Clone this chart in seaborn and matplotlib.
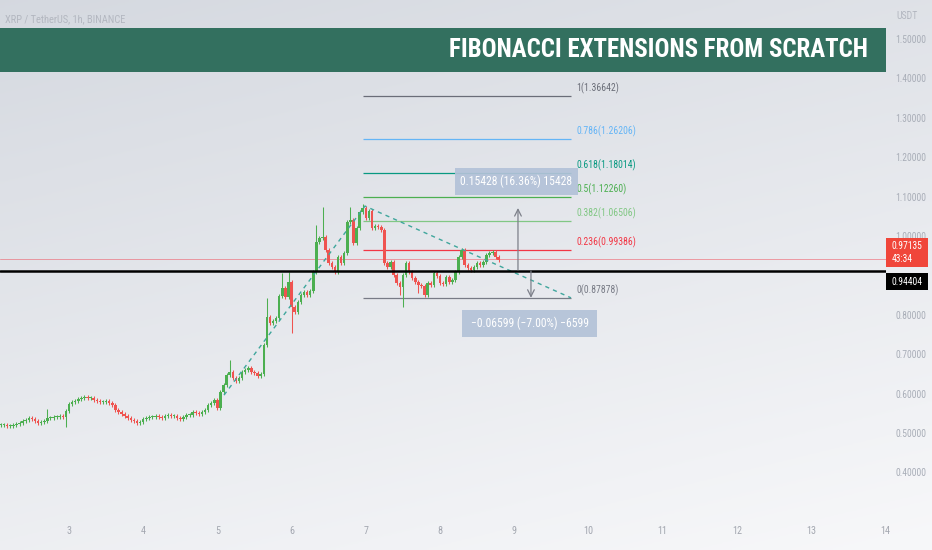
import numpy as np
import matplotlib
matplotlib.use("Agg")
import matplotlib.pyplot as plt
import matplotlib.font_manager as fm
import seaborn as sns
from matplotlib.patches import Rectangle
import matplotlib.transforms as mtransforms

# ---------------- data ----------------
start_day = 2 + 2 / 24          # first hourly candle (day of month)
closes = [
    0.520, 0.520, 0.518, 0.518, 0.520,
    0.523, 0.525, 0.530, 0.533, 0.538,
    0.536, 0.530, 0.525, 0.528, 0.530,
    0.538, 0.538, 0.541, 0.541, 0.543,
    0.541, 0.556, 0.574, 0.579, 0.581,
    0.586, 0.589, 0.591, 0.589, 0.589,
    0.584, 0.581, 0.579, 0.579, 0.581,
    0.576, 0.571, 0.558, 0.553, 0.548,
    0.543, 0.538, 0.533, 0.530, 0.525,
    0.528, 0.536, 0.538, 0.541, 0.541,
    0.543, 0.541, 0.538, 0.543, 0.546,
    0.543, 0.543, 0.538, 0.536, 0.541,
    0.546, 0.546, 0.553, 0.551, 0.548,
    0.553, 0.558, 0.571, 0.576, 0.584,
    0.564, 0.604, 0.622, 0.647, 0.655,
    0.640, 0.632, 0.640, 0.655, 0.660,
    0.665, 0.655, 0.652, 0.645, 0.650,
    0.723, 0.794, 0.779, 0.784, 0.792,
    0.848, 0.868, 0.845, 0.883, 0.820,
    0.807, 0.833, 0.850, 0.858, 0.850,
    0.860, 0.909, 0.985, 0.995, 0.998,
    0.964, 0.932, 0.921, 0.909, 0.947,
    0.932, 0.957, 1.036, 1.041, 0.982,
    1.020, 1.061, 1.071, 1.046, 1.063,
    1.020, 1.025, 1.023, 1.015, 0.932,
    0.921, 0.934, 0.901, 0.881, 0.871,
    0.901, 0.932, 0.909, 0.893, 0.883,
    0.876, 0.873, 0.850, 0.881, 0.876,
    0.906, 0.898, 0.881, 0.878, 0.895,
    0.883, 0.888, 0.909, 0.947, 0.964,
    0.926, 0.919, 0.914, 0.921, 0.932,
    0.926, 0.934, 0.952, 0.957, 0.959,
    0.947, 0.939,
]
wick_high_idx = [15, 74, 86, 91, 93, 102, 104, 113, 117]
wick_high_val = [0.561, 0.685, 0.843, 0.905, 0.908, 1.028, 1.074, 1.074, 1.081]
wick_low_idx = [21, 94, 129, 130, 135, 137]
wick_low_val = [0.516, 0.754, 0.850, 0.820, 0.855, 0.845]

fib_ratios = [0, 0.236, 0.382, 0.5, 0.618, 0.786, 1]
fib_labels = ["0(0.87878)", "0.236(0.99386)", "0.382(1.06506)", "0.5(1.12260)",
              "0.618(1.18014)", "0.786(1.26206)", "1(1.36642)"]
fib_colors = ["#787b86", "#f23645", "#81c784", "#4caf50", "#089981", "#64b5f6", "#6a6d78"]
fib_low, fib_high = 0.843, 1.355
fib_t = [6.962, 9.765]

trend_t = [5.089, 6.989, 9.765]
trend_p = [0.596, 1.076, 0.843]

up_range = dict(t=9.051, p0=0.914, p1=1.071, box=(8.202, 9.860, 1.104, 1.173),
                text="0.15428 (16.36%) 15428")
dn_range = dict(t=9.226, p0=0.911, p1=0.843, box=(8.297, 10.116, 0.744, 0.812),
                text="\u22120.06599 (\u22127.00%) \u22126599")

hline_price = 0.911
last_line_price = 0.942
last_price_text = "0.97135"
countdown_text = "43:34"
hline_text = "0.94404"

# 0.9 is hidden behind the price labels in the reference
y_ticks = [0.4, 0.5, 0.6, 0.7, 0.8, 1.0, 1.1, 1.2, 1.3, 1.4, 1.5]
x_ticks = [3, 4, 5, 6, 7, 8, 9, 10, 11, 12, 13, 14]
x_tick_labels = ["3", "4", "5", "6", "7", "8", "9", "10", "11", "12", "13", "14"]

symbol_text = "XRP / TetherUS, 1h, BINANCE"
banner_text = "FIBONACCI EXTENSIONS FROM SCRATCH"
currency_text = "USDT"

# ---------------- style ----------------
sns.set_theme(style="white")

# pick the narrowest installed sans family
_fonts = fm.fontManager.ttflist
_names = {f.name for f in _fonts}
narrow = None
stretch = "normal"
for cand in ["Liberation Sans Narrow", "Roboto Condensed", "Open Sans Condensed",
             "DejaVu Sans Condensed", "Noto Sans Condensed"]:
    if cand in _names:
        narrow = cand
        break
if narrow is None:
    for f in _fonts:
        if f.name in ("DejaVu Sans", "Noto Sans", "Open Sans", "Roboto") and \
                str(f.stretch) in ("condensed", "semi-condensed", "extra-condensed", "75", "87.5"):
            narrow, stretch = f.name, "condensed"
            break
if narrow is None:
    narrow = "Roboto" if "Roboto" in _names else "DejaVu Sans"
plt.rcParams["font.family"] = [narrow, "DejaVu Sans"]
plt.rcParams["font.stretch"] = stretch

W, H = 932, 550
fig = plt.figure(figsize=(W / 100, H / 100), dpi=100)
renderer = fig.canvas.get_renderer()


def fit_width(txt, target_px, max_size):
    w = txt.get_window_extent(renderer).width
    if w > 0:
        txt.set_fontsize(min(max_size, txt.get_fontsize() * target_px / w))
    return txt.get_fontsize()


# gradient background
bg = fig.add_axes([0, 0, 1, 1])
bg.set_axis_off()
yy, xx = np.mgrid[0:1:200j, 0:1:200j]
g = np.clip(0.72 * yy + 0.3 * xx, 0, 1)
top = np.array([0.835, 0.850, 0.878])
bot = np.array([0.968, 0.970, 0.978])
img = top[None, None, :] * (1 - g[..., None]) + bot[None, None, :] * g[..., None]
bg.imshow(img, aspect="auto", extent=[0, 1, 0, 1], origin="upper")
bg.set_xlim(0, 1)
bg.set_ylim(0, 1)

ax = fig.add_axes([0, 30 / H, 886 / W, 520 / H])
ax.set_facecolor("none")
for s in ax.spines.values():
    s.set_visible(False)
ax.set_xlim(2.070, 14.011)
ax.set_ylim(0.279, 1.599)

# candles
c = np.array(closes)
o = np.r_[c[0], c[:-1]]
t = start_day + np.arange(len(c)) / 24
hi = np.maximum(o, c) + 0.005
lo = np.minimum(o, c) - 0.005
for i, v in zip(wick_high_idx, wick_high_val):
    hi[i] = v
for i, v in zip(wick_low_idx, wick_low_val):
    lo[i] = v
green, red = "#4caf50", "#ef5350"
cols = [green if cc >= oo else red for oo, cc in zip(o, c)]
ax.vlines(t, lo, hi, colors=cols, lw=0.75, zorder=3)
ax.bar(t, np.maximum(np.abs(c - o), 0.003), bottom=np.minimum(o, c),
       width=0.82 / 24, color=cols, linewidth=0, zorder=3)

# trend dashed lines
sns.lineplot(x=trend_t, y=trend_p, ax=ax, color="#3fa69c", lw=1.0,
             linestyle=(0, (3, 3)), zorder=4)

# fib levels
fib_texts = []
for r, lab, col in zip(fib_ratios, fib_labels, fib_colors):
    p = fib_low + r * (fib_high - fib_low)
    ax.hlines(p, fib_t[0], fib_t[1], color=col, lw=0.9, zorder=2)
    fib_texts.append(ax.annotate(lab, xy=(fib_t[1], p), xytext=(4, 1.5),
                                 textcoords="offset points", color=col, fontsize=8,
                                 va="bottom", ha="left", zorder=6))
fs = fit_width(fib_texts[4], 60, 8.8)
for tx in fib_texts:
    tx.set_fontsize(fs)

# horizontal lines
ax.axhline(last_line_price, color="#f23645", lw=0.7, alpha=0.45, zorder=2)
ax.axhline(hline_price, color="#000000", lw=1.8, zorder=5)

# price ranges
box_texts = []
for rng in (up_range, dn_range):
    ax.annotate("", xy=(rng["t"], rng["p1"]), xytext=(rng["t"], rng["p0"]),
                arrowprops=dict(arrowstyle="->", color="#7d808a", lw=0.9,
                                shrinkA=0, shrinkB=0), zorder=5)
    x0, x1, y0, y1 = rng["box"]
    ax.add_patch(Rectangle((x0, y0), x1 - x0, y1 - y0, facecolor="#b3c2d8",
                           alpha=0.92, edgecolor="none", zorder=6))
    box_texts.append(ax.text((x0 + x1) / 2, (y0 + y1) / 2, rng["text"], color="white",
                             fontsize=9, ha="center", va="center", zorder=7))
fs = fit_width(box_texts[0], 112, 9.8)
for tx in box_texts:
    tx.set_fontsize(fs)

# axes ticks
ax.yaxis.tick_right()
ax.set_yticks(y_ticks)
ax.set_yticklabels([f"{v:.5f}" for v in y_ticks])
ax.set_xticks(x_ticks)
ax.set_xticklabels(x_tick_labels)
probe = fig.text(0, 0, "1.50000", fontsize=8)
ysize = fit_width(probe, 31, 9)
probe.remove()
ax.tick_params(axis="y", length=0, pad=6.5, labelsize=ysize, labelcolor="#a9aeb8")
ax.tick_params(axis="x", length=0, pad=4, labelsize=ysize + 0.4, labelcolor="#a3a7b0")
ax.grid(False)

# price labels on axis
tr = mtransforms.blended_transform_factory(ax.transAxes, ax.transData)
xr = 928 / 886
ax.add_patch(Rectangle((1.0, 0.921), xr - 1.0, 0.995 - 0.921, transform=tr,
                       facecolor="#f0463a", edgecolor="none", clip_on=False, zorder=8))
ax.text(1.0 + 0.006, 0.974, last_price_text, transform=tr, color="white",
        fontsize=ysize, ha="left", va="center", clip_on=False, zorder=9)
ax.text(1.0 + 0.006, 0.941, countdown_text, transform=tr, color="white",
        fontsize=ysize, ha="left", va="center", clip_on=False, zorder=9)
ax.add_patch(Rectangle((1.0, 0.863), xr - 1.0, 0.906 - 0.863, transform=tr,
                       facecolor="#000000", edgecolor="none", clip_on=False, zorder=8))
ax.text(1.0 + 0.006, 0.884, hline_text, transform=tr, color="white",
        fontsize=ysize, ha="left", va="center", clip_on=False, zorder=9)

# header texts and banner
sym = fig.text(5 / W, 1 - 19 / H, symbol_text, color="#b3b7c0", fontsize=8,
               ha="left", va="center")
fit_width(sym, 122, 8.8)
cur = fig.text(896 / W, 1 - 16 / H, currency_text, color="#b3b7c0", fontsize=7,
               ha="left", va="center")
fit_width(cur, 22, 7)
fig.patches.append(Rectangle((0, 1 - 72 / H), 886 / W, 44 / H, transform=fig.transFigure,
                             facecolor="#33705f", edgecolor="none", zorder=20))
ban = fig.text(868 / W, 1 - 50 / H, banner_text, color="white", fontsize=26,
               fontweight="bold", ha="right", va="center", zorder=21)
fit_width(ban, 421, 25)

fig.savefig("out.png", dpi=100)
